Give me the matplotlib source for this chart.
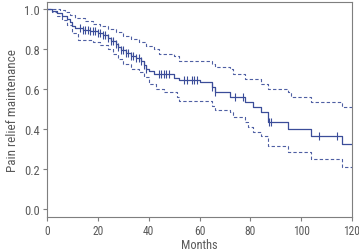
import numpy as np
import matplotlib
matplotlib.use("Agg")
import matplotlib.pyplot as plt

plt.rcParams['font.family'] = ['Roboto Condensed', 'Archivo Narrow', 'DejaVu Sans']

# Kaplan-Meier estimate (step after each time)
km_time = [0, 2, 4, 6, 8, 9, 10, 11, 14, 17, 20, 22, 24, 25, 27, 28, 29, 31, 33, 35,
           37, 38, 39, 40, 42, 50, 52, 60, 65, 66, 72, 78, 81, 84, 87, 95, 104, 116, 120]
km_surv = [1.0, 0.99, 0.98, 0.965, 0.95, 0.935, 0.915, 0.905, 0.895, 0.89, 0.88, 0.87,
           0.855, 0.84, 0.825, 0.81, 0.795, 0.78, 0.765, 0.755, 0.74, 0.72, 0.70, 0.69,
           0.675, 0.655, 0.645, 0.635, 0.61, 0.585, 0.56, 0.535, 0.51, 0.485, 0.435,
           0.40, 0.365, 0.325, 0.325]

# censored observations (months)
censor_time = [13, 14, 15, 16, 17, 18, 19, 20, 21, 22, 23, 24, 25, 26, 27, 28, 29, 30,
               31, 32, 33, 34, 35, 36, 37, 38, 39, 44, 45, 46, 47, 48, 54, 55, 57, 58,
               59, 65, 66, 74, 77, 87.5, 88.3, 107, 114]

# 95% confidence limits
lo_time = [0, 2, 4, 6, 8, 10, 12, 18, 21, 24, 26, 28, 30, 33, 36, 38, 40, 43, 46, 51,
           52, 65, 66, 72, 73, 78, 79, 81, 84, 87, 95, 104, 116, 120]
lo_surv = [1.0, 0.985, 0.965, 0.945, 0.92, 0.88, 0.845, 0.835, 0.82, 0.80, 0.775, 0.75,
           0.725, 0.70, 0.685, 0.66, 0.625, 0.60, 0.585, 0.56, 0.54, 0.515, 0.495, 0.485,
           0.46, 0.435, 0.41, 0.385, 0.365, 0.315, 0.285, 0.25, 0.21, 0.21]

up_time = [0, 5, 7, 9, 11, 15, 18, 21, 24, 27, 30, 33, 36, 39, 42, 44, 50, 52, 65, 66,
           72, 73, 78, 84, 87, 95, 96, 104, 116, 120]
up_surv = [1.0, 0.995, 0.985, 0.97, 0.955, 0.94, 0.925, 0.915, 0.90, 0.885, 0.865, 0.85,
           0.835, 0.815, 0.80, 0.775, 0.765, 0.74, 0.725, 0.71, 0.70, 0.675, 0.65, 0.625,
           0.60, 0.585, 0.56, 0.535, 0.51, 0.51]

line_col = '#3b4d99'
grey = '#7f7f7f'
text_col = '#5a5a5a'

fig = plt.figure(figsize=(3.59, 2.51), dpi=100)
ax = fig.add_axes([0.131, 0.1315, 0.8495, 0.8565])

ax.step(km_time, km_surv, where='post', color=line_col, lw=0.9)
ax.step(lo_time, lo_surv, where='post', color=line_col, lw=0.8, ls=(0, (3, 2)), alpha=0.9)
ax.step(up_time, up_surv, where='post', color=line_col, lw=0.8, ls=(0, (3, 2)), alpha=0.9)

# censor marks sit on the curve
idx = np.searchsorted(km_time, censor_time, side='right') - 1
censor_y = np.array(km_surv)[idx]
ax.plot(censor_time, censor_y, ls='none', marker='|', ms=6, mew=0.8, color=line_col)

ax.set_xlim(0, 120)
ax.set_ylim(-0.04, 1.035)
ax.set_xticks(np.arange(0, 121, 20))
ax.set_yticks(np.arange(0, 1.01, 0.2))
ax.set_yticklabels([f"{v:.1f}" for v in np.arange(0, 1.01, 0.2)])

for s in ax.spines.values():
    s.set_color(grey)
    s.set_linewidth(0.8)
ax.tick_params(direction='out', length=3, width=0.8, color=grey,
               labelcolor=text_col, labelsize=9, pad=2)
ax.tick_params(axis='x', labelsize=8.3)

ax.set_xlabel("Months", color=text_col, fontsize=8.8, labelpad=0.5)
ax.set_ylabel("Pain relief maintenance", color=text_col, fontsize=9.5, labelpad=4)

fig.savefig("out.png", dpi=100)
